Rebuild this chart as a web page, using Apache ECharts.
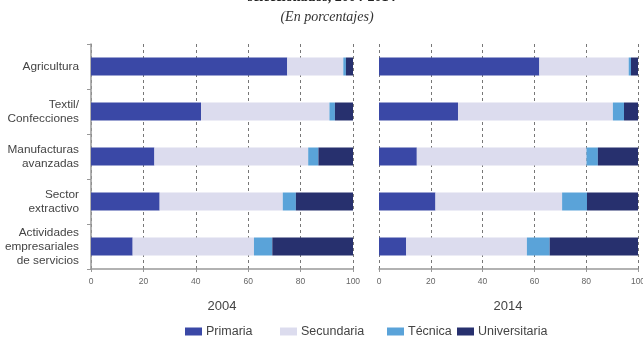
<!DOCTYPE html>
<html>
<head>
<meta charset="utf-8">
<script src="https://cdn.jsdelivr.net/npm/echarts@6/dist/echarts.min.js"></script>
<style>
  html, body { margin: 0; padding: 0; background: #fff; }
  #chart { width: 643px; height: 345px; }
</style>
</head>
<body>
<div id="chart"></div>
<script>
// sectores (de arriba hacia abajo)
const sectors = ['Agricultura', 'Textil/\nConfecciones', 'Manufacturas\navanzadas', 'Sector\nextractivo', 'Actividades\nempresariales\nde servicios'];
const levels = ['Primaria', 'Secundaria', 'Técnica', 'Universitaria'];
const years = ['2004', '2014'];
const xTicks = [0, 20, 40, 60, 80, 100];

// porcentajes por nivel educativo, 2004
const primaria2004 = [74.9, 42.0, 24.2, 26.2, 15.9];
const secundaria2004 = [21.4, 49.0, 58.7, 47.0, 46.3];
const tecnica2004 = [1.0, 2.1, 3.9, 5.0, 7.0];
const universitaria2004 = [2.7, 6.9, 13.2, 21.8, 30.8];

// porcentajes por nivel educativo, 2014
const primaria2014 = [61.9, 30.5, 14.6, 21.8, 10.5];
const secundaria2014 = [34.5, 59.8, 65.5, 48.9, 46.6];
const tecnica2014 = [0.9, 4.3, 4.4, 9.6, 8.8];
const universitaria2014 = [2.7, 5.4, 15.5, 19.7, 34.1];

const colors = ['#3a48a6', '#dcdcee', '#5aa3d9', '#27306e'];
const values = [
  [primaria2004, secundaria2004, tecnica2004, universitaria2004],
  [primaria2014, secundaria2014, tecnica2014, universitaria2014]
];

const font = '"Liberation Sans", Arial, sans-serif';
const serif = '"Liberation Serif", "DejaVu Serif", serif';

const grids = [
  { left: 91, right: 290, top: 44, bottom: 76, outerBoundsMode: 'none' },
  { left: 379, right: 5, top: 44, bottom: 76, outerBoundsMode: 'none' }
];

const xAxes = grids.map((g, i) => ({
  type: 'value', gridIndex: i, min: xTicks[0], max: xTicks[xTicks.length - 1], interval: 20,
  axisLine: { show: true, lineStyle: { color: '#999', width: 1.5 } },
  axisTick: { show: true, length: 3, lineStyle: { color: '#999' } },
  axisLabel: { color: '#666', fontSize: 8.5, fontFamily: font, margin: 8 },
  splitLine: { show: true, lineStyle: { color: '#777', type: [3, 3], width: 1 } }
}));

const yAxes = grids.map((g, i) => ({
  type: 'category', gridIndex: i, data: sectors, inverse: true,
  axisLine: { show: i === 0, lineStyle: { color: '#999', width: 1.5 } },
  axisTick: { show: i === 0, length: 4, lineStyle: { color: '#999' } },
  axisLabel: {
    show: i === 0, color: '#444', fontSize: 11.8, fontFamily: font,
    lineHeight: 14, align: 'right', margin: 12
  }
}));

const series = [];
values.forEach((set, gi) => {
  set.forEach((data, li) => {
    series.push({
      name: levels[li], type: 'bar', stack: 'y' + gi,
      xAxisIndex: gi, yAxisIndex: gi, barWidth: 18,
      itemStyle: { color: colors[li] },
      data: data
    });
  });
});

const legendLeft = [185, 280, 387, 457];
const legends = levels.map((name, i) => ({
  data: [name], left: legendLeft[i], top: 325, padding: 0,
  itemWidth: 17, itemHeight: 8, icon: 'rect',
  textStyle: { color: '#444', fontSize: 12.5, fontFamily: font, padding: [0, 0, 0, -1] }
}));

const chart = echarts.init(document.getElementById('chart'));
chart.setOption({
  animation: false,
  grid: grids,
  xAxis: xAxes,
  yAxis: yAxes,
  legend: legends,
  series: series,
  graphic: [
    { type: 'text', left: 'center', top: -10,
      style: { text: 'seleccionados, 2004-2014', font: 'bold 14px ' + serif, fill: '#222' } },
    { type: 'text', x: 327, y: 17,
      style: { text: '(En porcentajes)', font: 'italic 14px ' + serif, fill: '#333', align: 'center', verticalAlign: 'middle' } },
    { type: 'text', x: 222, y: 306,
      style: { text: years[0], font: '13px ' + font, fill: '#444', align: 'center', verticalAlign: 'middle' } },
    { type: 'text', x: 508, y: 306,
      style: { text: years[1], font: '13px ' + font, fill: '#444', align: 'center', verticalAlign: 'middle' } }
  ]
});
</script>
</body>
</html>
